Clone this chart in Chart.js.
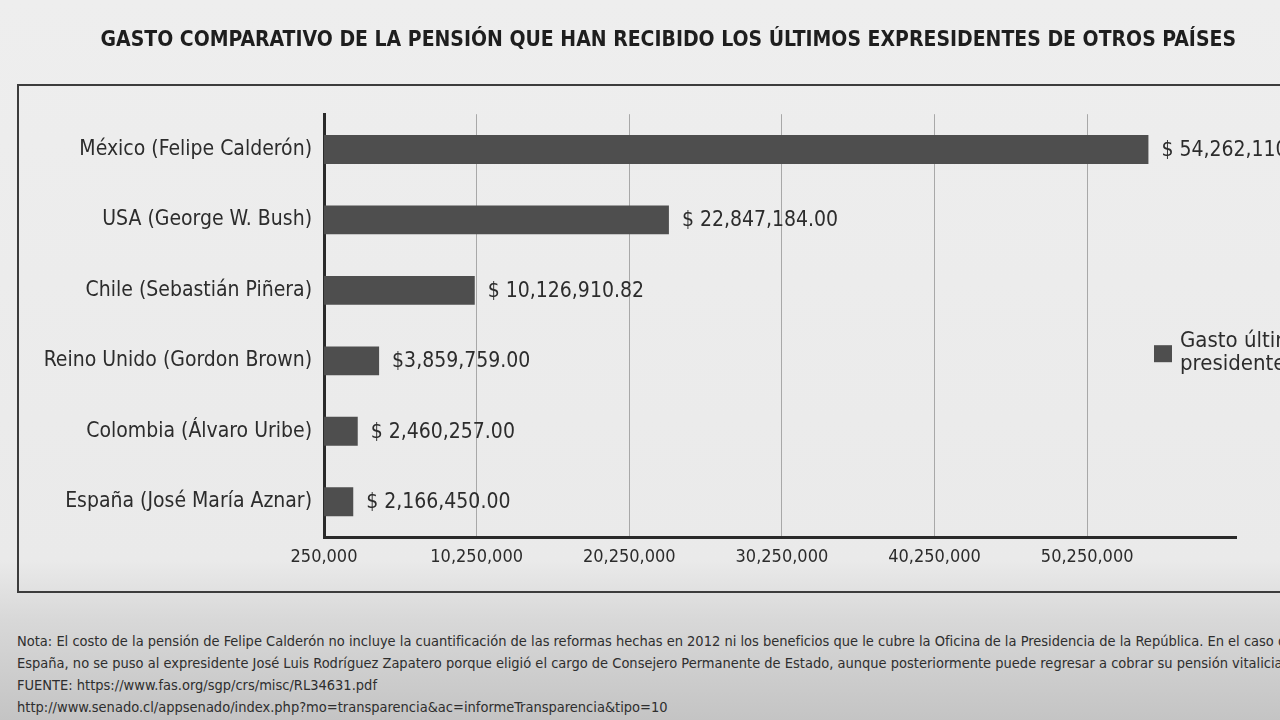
<!DOCTYPE html>
<html lang="es">
<head>
<meta charset="utf-8">
<title>Gasto comparativo de la pensión</title>
<script src="https://cdn.jsdelivr.net/npm/chart.js@4/dist/chart.umd.min.js"></script>
<style>
    html, body {
        margin: 0;
        padding: 0;
        width: 1280px;
        height: 720px;
        overflow: hidden;
        background: linear-gradient(to bottom, #eeeeee 0px, #eaeaea 560px, #d8d8d8 620px, #c4c4c4 720px);
        font-family: 'Liberation Sans Narrow', 'DejaVu Sans Condensed', 'Open Sans', sans-serif;
    }
    #frame {
        position: absolute;
        left: 17px;
        top: 84px;
        width: 1320px;
        height: 509px;
        border: 2px solid #3c3c3c;
        box-sizing: border-box;
    }
    #chart {
        position: absolute;
        left: 0;
        top: 0;
    }
    #notes {
        position: absolute;
        left: 17px;
        top: 630px;
        font-size: 14.5px;
        line-height: 22px;
        color: #2e2e2e;
        white-space: nowrap;
    }
</style>
</head>
<body>
<div id="frame"></div>
<canvas id="chart" width="1340" height="600"></canvas>
<div id="notes">
    <div>Nota: El costo de la pensión de Felipe Calderón no incluye la cuantificación de las reformas hechas en 2012 ni los beneficios que le cubre la Oficina de la Presidencia de la República. En el caso de</div>
    <div>España, no se puso al expresidente José Luis Rodríguez Zapatero porque eligió el cargo de Consejero Permanente de Estado, aunque posteriormente puede regresar a cobrar su pensión vitalicia.</div>
    <div>FUENTE: https://www.fas.org/sgp/crs/misc/RL34631.pdf</div>
    <div>http://www.senado.cl/appsenado/index.php?mo=transparencia&amp;ac=informeTransparencia&amp;tipo=10</div>
</div>
<script>
// Data
const categories = [
    'México (Felipe Calderón)',
    'USA (George W. Bush)',
    'Chile (Sebastián Piñera)',
    'Reino Unido (Gordon Brown)',
    'Colombia (Álvaro Uribe)',
    'España (José María Aznar)'
];
const pensionValues = [54262110, 22847184, 10126910.82, 3859759, 2460257, 2166450];
const valueLabels = [
    '$ 54,262,110.00',
    '$ 22,847,184.00',
    '$ 10,126,910.82',
    '$3,859,759.00',
    '$ 2,460,257.00',
    '$ 2,166,450.00'
];
const tickValues = [250000, 10250000, 20250000, 30250000, 40250000, 50250000];
const legendLines = ['Gasto últimos', 'presidentes'];

const FONT = "'Liberation Sans Narrow', 'DejaVu Sans Condensed', 'Open Sans', sans-serif";
const BAR_COLOR = '#4e4e4e';
const TEXT_COLOR = '#2c2c2c';

// draws the "$ ..." label right of each bar
const valueLabelPlugin = {
    id: 'valueLabels',
    afterDatasetsDraw(chart) {
        const ctx = chart.ctx;
        const meta = chart.getDatasetMeta(0);
        ctx.save();
        ctx.font = '21px ' + FONT;
        ctx.fillStyle = TEXT_COLOR;
        ctx.textAlign = 'left';
        ctx.textBaseline = 'middle';
        meta.data.forEach((bar, i) => {
            ctx.fillText(valueLabels[i], bar.x + 13, bar.y + 1);
        });
        ctx.restore();
    }
};

// legend box sitting inside the plot, near the right end
const sideLegendPlugin = {
    id: 'sideLegend',
    afterDraw(chart) {
        const ctx = chart.ctx;
        const area = chart.chartArea;
        const x = area.right - 82;
        const y = area.top + 231;
        ctx.save();
        ctx.fillStyle = chart.data.datasets[0].backgroundColor;
        ctx.fillRect(x, y, 18, 17);
        ctx.font = '22px ' + FONT;
        ctx.fillStyle = TEXT_COLOR;
        ctx.textBaseline = 'middle';
        ctx.fillText(legendLines[0], x + 26, y - 4);
        ctx.fillText(legendLines[1], x + 26, y + 19);
        ctx.restore();
    }
};

const ctx = document.getElementById('chart').getContext('2d');
new Chart(ctx, {
    type: 'bar',
    data: {
        labels: categories,
        datasets: [{
            label: legendLines.join(' '),
            data: pensionValues,
            backgroundColor: BAR_COLOR,
            categoryPercentage: 1,
            barPercentage: 0.41
        }]
    },
    options: {
        indexAxis: 'y',
        responsive: false,
        animation: false,
        devicePixelRatio: 1,
        layout: {
            padding: { left: 0, right: 104, top: 0, bottom: 0 }
        },
        plugins: {
            legend: { display: false },
            tooltip: { enabled: false },
            title: {
                display: true,
                align: 'end',
                text: 'GASTO COMPARATIVO DE LA PENSIÓN QUE HAN RECIBIDO LOS ÚLTIMOS EXPRESIDENTES DE OTROS PAÍSES',
                color: '#1e1e1e',
                font: { family: FONT, size: 21, weight: 'bold' },
                padding: { top: 28, bottom: 61 }
            }
        },
        scales: {
            x: {
                min: 250000,
                max: 60000000,
                afterBuildTicks: (scale) => {
                    scale.ticks = tickValues.map(v => ({ value: v }));
                },
                afterFit: (scale) => {
                    scale.height = 63;
                },
                ticks: {
                    color: TEXT_COLOR,
                    font: { family: FONT, size: 18 },
                    padding: 10,
                    maxRotation: 0,
                    callback: (value) => value.toLocaleString('en-US')
                },
                grid: {
                    color: '#a8a8a8',
                    lineWidth: 1,
                    drawTicks: false
                },
                border: { color: '#2a2a2a', width: 3 }
            },
            y: {
                afterFit: (scale) => {
                    scale.width = 324;
                },
                ticks: {
                    color: TEXT_COLOR,
                    font: { family: FONT, size: 21 },
                    padding: 12
                },
                grid: { display: false, drawTicks: false },
                border: { color: '#2a2a2a', width: 3 }
            }
        }
    },
    plugins: [valueLabelPlugin, sideLegendPlugin]
});
</script>
</body>
</html>
